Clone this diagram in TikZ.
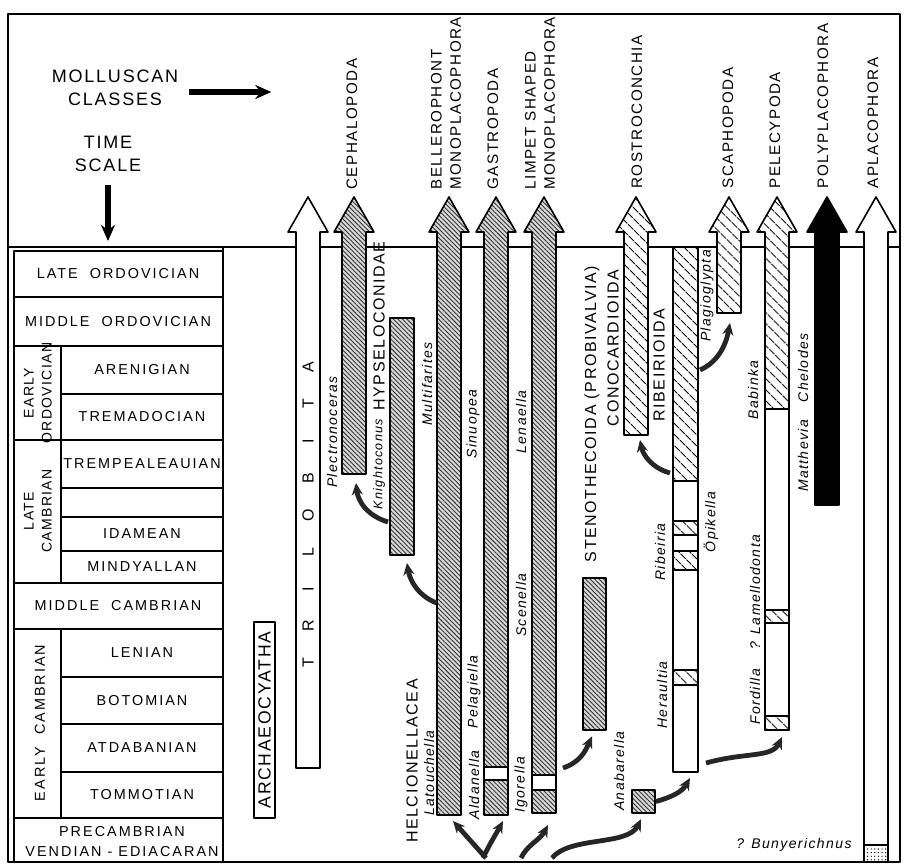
\documentclass[tikz,border=0pt]{standalone}
\usepackage{fontspec}
\setmainfont{Liberation Sans}
\newfontfamily\lettering[LetterSpace=10]{Liberation Sans}
\newfontfamily\widelettering[LetterSpace=14]{Liberation Sans}
\usetikzlibrary{positioning, fit, patterns.meta, arrows.meta}

\begin{document}
\begin{tikzpicture}[x=0.5pt, y=-0.5pt, line join=round,
	dense/.style={draw, line width=0.8pt, preaction={fill=gray!30}, pattern={Lines[angle=-45,distance=1.6pt,line width=0.45pt]}, pattern color=black!80},
	coarse/.style={draw, line width=0.8pt, preaction={fill=white}, pattern={Lines[angle=-45,distance=4pt,line width=0.5pt]}},
	open/.style={draw, line width=0.8pt, fill=white},
	solid/.style={draw, line width=0.8pt, fill=black},
	stipple/.style={draw, line width=0.8pt, pattern={Dots[distance=1.8pt,radius=0.35pt]}},
	cell/.style={draw, line width=0.9pt},
	evo/.style={-{Stealth[length=6pt,width=5.5pt]}, line width=2.4pt, black!85},
	bigarrow/.style={-{Stealth[length=8pt,width=7pt]}, line width=2.6pt},
	period/.style={font=\widelettering\fontsize{7.2}{9}\selectfont, align=center, inner sep=0pt},
	subera/.style={font=\lettering\fontsize{7}{9}\selectfont, align=center, inner sep=0pt, rotate=90},
	head/.style={font=\lettering\fontsize{9}{11.5}\selectfont, align=center},
	class/.style={font=\lettering\fontsize{7.6}{9.6}\selectfont, rotate=90, anchor=west, align=left, inner sep=1pt},
	group/.style={font=\lettering\fontsize{8}{10}\selectfont, rotate=90, inner sep=1pt},
	genus/.style={font=\lettering\fontsize{7}{8}\selectfont\itshape, rotate=90, inner sep=1pt}]
	\useasboundingbox (0,0) rectangle (904,867);

	% frame, header and time scale
	\draw[line width=1pt] (8,14) rectangle (900,862);
	\draw[line width=1.2pt] (8,247) -- (900,247);
	\node[head] (mollusc) at (115,88) {MOLLUSCAN\\CLASSES};
	\node[head] (timescale) at (108,154) {TIME\\SCALE};
	\coordinate (ts-end) at (108,241);
	\draw[bigarrow] ([xshift=2pt,yshift=-2pt]mollusc.east) -- ++(82,0);
	\draw[bigarrow] ([yshift=-3pt]timescale.south) -- (ts-end);

	\foreach \t/\b/\lab [count=\i] in {251/297/LATE~~ORDOVICIAN, 297/346/MIDDLE~~ORDOVICIAN, 583/629/MIDDLE~~CAMBRIAN}
		{\draw[cell] (14,\t) rectangle (223,\b);
		\node[period] (era\i) at (118,{(\t+\b)/2}) {\lab};}
	\foreach \t/\b/\lab [count=\i] in {346/394/ARENIGIAN, 394/440/TREMADOCIAN, 440/488/TREMPEALEAUIAN, 488/517/{}, 517/551/IDAMEAN, 551/583/MINDYALLAN, 629/677/LENIAN, 677/724/BOTOMIAN, 724/772/ATDABANIAN, 772/818/TOMMOTIAN}
		{\draw[cell] (61,\t) rectangle (223,\b);
		\node[period] (stage\i) at (142,{(\t+\b)/2}) {\lab};}
	\draw[cell] (14,346) rectangle (61,440);
	\draw[cell] (14,440) rectangle (61,583);
	\draw[cell] (14,629) rectangle (61,818);
	\draw[cell] (14,818) rectangle (223,862);
	\node[subera] (early-ord) at (38,393) {EARLY\\ORDOVICIAN};
	\node[subera] (late-camb) at (38,511) {LATE\\CAMBRIAN};
	\node[subera, font=\widelettering\fontsize{7.2}{9}\selectfont] (early-camb) at (40,723) {EARLY~~CAMBRIAN};
	\node[period, font=\widelettering\fontsize{7.2}{10}\selectfont] (precamb) at (122,842) {PRECAMBRIAN\\VENDIAN - EDIACARAN};

	% class arrows
	\foreach \x/\b/\s in {308/768/open, 354/474/dense, 449/815/dense, 496/815/dense, 544/813/dense, 636/435/coarse, 729/313/coarse, 777/409/coarse, 827/505/solid, 876/862/open}
		\path[\s] (\x-12,\b) -- (\x-12,232) -- (\x-20,232) -- (\x,197) -- (\x+20,232) -- (\x+12,232) -- (\x+12,\b) -- cycle;
	\path[open] (484,767) rectangle (508,780);
	\path[open] (532,775) rectangle (556,790);
	\path[coarse] (673,247) rectangle (698,481);
	\path[open] (673,481) rectangle (698,772);
	\foreach \t/\b in {521/535, 551/570, 670/685}
		\path[coarse] (673,\t) rectangle (698,\b);
	\path[open] (765,409) rectangle (789,730);
	\foreach \t/\b in {610/623, 716/730}
		\path[coarse] (765,\t) rectangle (789,\b);
	\path[stipple] (864,845) rectangle (888,862);
	\draw[line width=1pt] (223,247) -- (223,862);

	\node[dense, fit={(390,318) (414,555)}, inner sep=0pt] (hyps) {};
	\node[dense, fit={(583,578) (606,730)}, inner sep=0pt] (steno) {};
	\node[dense, fit={(632,790) (655,813)}, inner sep=0pt] (anab) {};
	\node[open, fit={(254,622) (275,818)}, inner sep=0pt] (archaeo) {};
	\node[group, font=\lettering\fontsize{8.8}{10}\selectfont] (archaeo-lab) at (archaeo.center) {ARCHAEOCYATHA};

	\node[class] (ceph-lab) at (352,192) {CEPHALOPODA};
	\node[class] (bell-lab) at (446,192) {BELLEROPHONT\\MONOPLACOPHORA};
	\node[class] (gast-lab) at (493,192) {GASTROPODA};
	\node[class] (limp-lab) at (540,192) {LIMPET SHAPED\\MONOPLACOPHORA};
	\node[class] (rost-lab) at (637,191) {ROSTROCONCHIA};
	\node[class] (scap-lab) at (728,191) {SCAPHOPODA};
	\node[class] (pele-lab) at (775,191) {PELECYPODA};
	\node[class] (poly-lab) at (823,191) {POLYPLACOPHORA};
	\node[class] (apla-lab) at (873,191) {APLACOPHORA};

	\foreach \l [count=\i from 0] in {T,R,I,L,O,B,I,T,A}
		\node[group] (tri\i) at (308,663-37*\i) {\l};

	\node[group] (hyps-lab) at (379,326) {HYPSELOCONIDAE};
	\node[group] (helc-lab) at (412,761) {HELCIONELLACEA};
	\node[group] (steno-lab) at (592,414) {STENOTHECOIDA (PROBIVALVIA)};
	\node[group] (cono-lab) at (613,348) {CONOCARDIOIDA};
	\node[group] (ribe-lab) at (659,365) {RIBEIRIOIDA};

	\node[genus] (plec) at (332,432) {Plectronoceras};
	\node[genus, font=\lettering\fontsize{6.3}{8}\selectfont\itshape] (knig) at (379,464) {Knightoconus};
	\node[genus] (mult) at (427,384) {Multifarites};
	\node[genus] (sinu) at (473,424) {Sinuopea};
	\node[genus] (lena) at (521,422) {Lenaella};
	\node[genus] (lato) at (429,773) {Latouchella};
	\node[genus] (alda) at (474,785) {Aldanella};
	\node[genus] (pela) at (474,692) {Pelagiella};
	\node[genus] (igor) at (521,785) {Igorella};
	\node[genus] (scen) at (521,605) {Scenella};
	\node[genus] (plag) at (707,296) {Plagioglypta};
	\node[genus] (babi) at (753,390) {Babinka};
	\node[genus] (chel) at (803,368) {Chelodes};
	\node[genus] (matt) at (803,456) {Matthevia};
	\node[genus] (ribe) at (660,552) {Ribeiria};
	\node[genus] (opik) at (711,522) {Öpikella};
	\node[genus] (hera) at (662,695) {Heraultia};
	\node[genus] (lame) at (755,592) {? Lamellodonta};
	\node[genus] (ford) at (755,697) {Fordilla};
	\node[genus] (anab-lab) at (619,771) {Anabarella};
	\node[genus, rotate=-90] (buny) at (794,845) {? Bunyerichnus};

	% lines of descent
	\coordinate (root-a) at (486,858);
	\coordinate (root-b) at (483,858);
	\coordinate (root-c) at (521,858);
	\coordinate (root-d) at (552,858);
	\coordinate (bell-in) at (453,821);
	\coordinate (gast-in) at (503,821);
	\coordinate (limp-in) at (548,825);
	\coordinate (limp-out) at (563,768);
	\coordinate (ribe-in) at (690,778);
	\coordinate (ribe-out) at (706,763);
	\coordinate (ribe-left) at (670,473);
	\coordinate (ribe-right) at (700,370);
	\coordinate (pele-in) at (782,737);
	\coordinate (rost-in) at (640,440);
	\coordinate (scap-in) at (730,323);
	\coordinate (bell-out) at (437,603);
	\coordinate (hyps-in) at (407,563);
	\coordinate (hyps-out) at (388,522);
	\coordinate (ceph-in) at (356,483);
	\draw[evo] (root-a) -- (bell-in);
	\draw[evo] (root-b) .. controls (489,845) and (496,834) .. (gast-in);
	\draw[evo] (root-c) .. controls (527,845) and (540,840) .. (limp-in);
	\draw[evo, shorten >=3pt] (root-d) .. controls (570,836) and (628,846) .. (anab.south);
	\draw[evo, shorten >=3pt] (limp-out) .. controls (580,762) and (585,752) .. (steno.south);
	\draw[evo] (anab.east) .. controls (672,797) and (682,792) .. (ribe-in);
	\draw[evo] (ribe-out) .. controls (745,752) and (772,758) .. (pele-in);
	\draw[evo] (ribe-left) .. controls (652,468) and (643,455) .. (rost-in);
	\draw[evo] (ribe-right) .. controls (718,362) and (726,345) .. (scap-in);
	\draw[evo] (bell-out) .. controls (420,597) and (410,582) .. (hyps-in);
	\draw[evo] (hyps-out) .. controls (368,516) and (358,502) .. (ceph-in);
\end{tikzpicture}
\end{document}
